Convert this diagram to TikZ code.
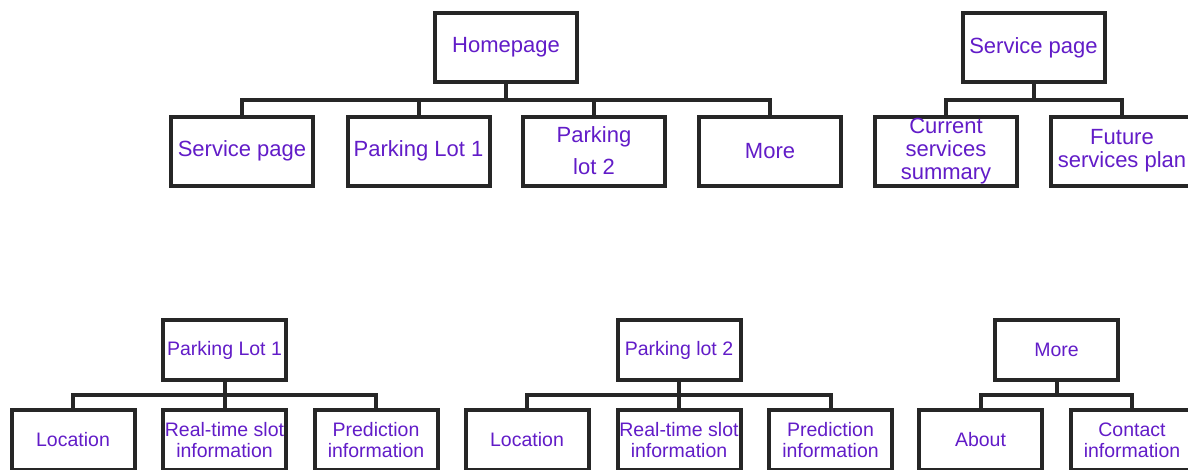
\documentclass[tikz,border=0pt]{standalone}
\usepackage{fontspec}
\setmainfont{Liberation Sans}
\definecolor{labelpurple}{RGB}{98,28,200}
\definecolor{edgegray}{RGB}{38,38,38}
\begin{document}
\begin{tikzpicture}[x=1pt,y=-1pt,
  box/.style={draw=edgegray,line width=4pt,fill=white,inner sep=0pt,
    align=center,text=labelpurple},
  bigbox/.style={box,minimum width=142pt,minimum height=69pt,
    font=\fontsize{22}{23}\selectfont},
  smallbox/.style={box,minimum width=123pt,minimum height=60pt,
    font=\fontsize{19.5}{21}\selectfont},
  conn/.style={draw=edgegray,line width=4pt}]
\path[use as bounding box,clip] (0,0) rectangle (1188,469);

% Homepage tree
\node[bigbox] (hp)   at (506,47)    {Homepage};
\node[bigbox] (hsp)  at (242,151)   {Service page};
\node[bigbox] (hpl1) at (418.5,151) {Parking Lot 1};
\node[bigbox] (hpl2) at (594,151)   {Parking\\[9pt]lot 2};
\node[bigbox] (hmo)  at (770,151)   {More};
\foreach \c in {hsp,hpl1,hpl2,hmo}
  \draw[conn] (hp.south) -- ++(0,16) -| (\c.north);

% Service page tree
\node[bigbox] (sp)   at (1033.5,47.5) {Service page};
\node[bigbox] (cur)  at (946,151)     {Current\\services\\summary};
\node[bigbox] (fut)  at (1122,151)    {Future\\services plan};
\foreach \c in {cur,fut}
  \draw[conn] (sp.south) -- ++(0,15.5) -| (\c.north);

% Parking Lot 1 tree
\node[smallbox] (pa)  at (224.5,350) {Parking Lot 1};
\node[smallbox] (pa1) at (73,440)    {Location};
\node[smallbox] (pa2) at (224.5,440) {Real-time slot\\information};
\node[smallbox] (pa3) at (376,440)   {Prediction\\information};
\foreach \c in {pa1,pa2,pa3}
  \draw[conn] (pa.south) -- ++(0,13) -| (\c.north);

% Parking lot 2 tree
\node[smallbox] (pb)  at (679,350)   {Parking lot 2};
\node[smallbox] (pb1) at (527,440)   {Location};
\node[smallbox] (pb2) at (679,440)   {Real-time slot\\information};
\node[smallbox] (pb3) at (830.5,440) {Prediction\\information};
\foreach \c in {pb1,pb2,pb3}
  \draw[conn] (pb.south) -- ++(0,13) -| (\c.north);

% More tree
\node[smallbox] (mo)  at (1056.5,350) {More};
\node[smallbox] (mo1) at (980.5,440)  {About};
\node[smallbox] (mo2) at (1132,440)   {Contact\\information};
\foreach \c in {mo1,mo2}
  \draw[conn] (mo.south) -- ++(0,13) -| (\c.north);
\end{tikzpicture}
\end{document}
